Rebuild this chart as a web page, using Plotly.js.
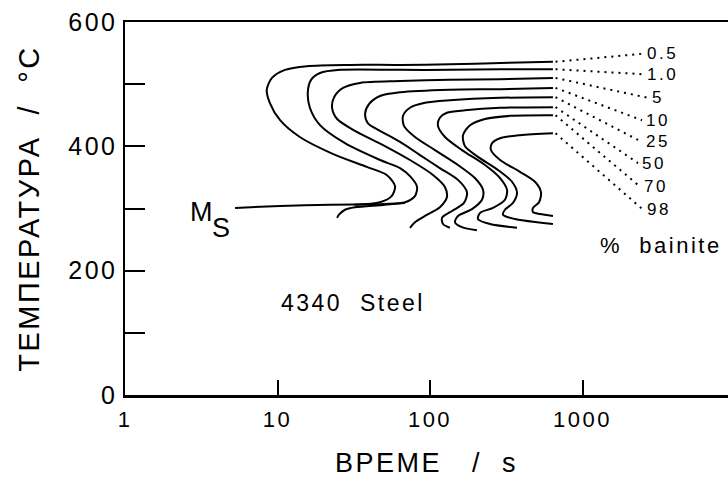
<!DOCTYPE html>
<html>
<head>
<meta charset="utf-8">
<script src="https://cdn.plot.ly/plotly-3.0.1.min.js"></script>
<style>
  html, body { margin: 0; padding: 0; background: #fff; overflow: hidden; }
  svg text { letter-spacing: 2.5px; }
</style>
</head>
<body>
<div id="chart" style="width:728px;height:481px;"></div>
<script>
// ---- Data (time in s, temperature in °C) ----
const time05 = [640, 290, 135, 64, 30, 15.6, 11.2, 9.2, 8.5, 8.9, 10.4, 14, 23, 38.5, 52, 59, 56, 47, 32];
const temp05 = [536, 534, 532, 531, 531, 529, 523, 510, 491, 470, 442, 415, 388, 367, 354, 336, 320, 310, 306];

const time10 = [640, 288, 135, 64, 25.7, 19.0, 16.6, 15.8, 16.3, 19.0, 27.7, 47, 63.6, 73.9, 82.2, 79.7, 68.6, 50.7, 32.2, 27.7, 25.3, 24.6];
const temp10 = [524, 524, 523, 523, 523, 518, 507, 487, 462, 434, 405, 378, 365, 352, 335, 320, 310, 306, 302, 298, 290, 285];

const time5 = [640, 288, 135, 64, 34.8, 26.9, 23.5, 22.8, 24.6, 32.2, 49.2, 73.9, 104.6, 125, 129, 116, 92.7, 79.7, 73.9];
const temp5 = [510, 508, 507, 505, 502, 494, 479, 462, 444, 425, 402, 378, 354, 335, 318, 302, 288, 278, 269];

const time10p = [640, 288, 135, 64, 47, 39.8, 37.5, 39.2, 47, 63.6, 86, 116, 152.6, 174.8, 167, 139.4, 119.9, 121.7, 135];
const temp10p = [494, 492, 491, 487, 481, 468, 452, 437, 425, 407, 386, 365, 346, 326, 309, 296, 285, 275, 269];

const time25 = [640, 288, 135, 92.7, 73.9, 66.5, 67.5, 79.7, 107.8, 152.6, 197, 222.6, 219.3, 188.5, 152.6, 145.8, 162, 203];
const temp25 = [479, 478, 474, 470, 462, 449, 433, 415, 394, 370, 349, 330, 314, 299, 288, 278, 270, 265];

const time50 = [640, 288, 169.6, 129, 116, 112.8, 125.4, 162, 229.5, 288, 320, 310, 258.9, 213, 206.4, 247.5, 372];
const temp50 = [463, 462, 458, 454, 446, 433, 415, 394, 370, 349, 330, 314, 301, 293, 283, 275, 269];

const time70 = [640, 335, 229.5, 183, 164.6, 169.6, 206.4, 279.2, 344.9, 372, 350, 310, 301, 361, 640];
const temp70 = [450, 449, 444, 434, 418, 400, 383, 362, 343, 325, 309, 298, 290, 283, 275];

const time98 = [640, 389, 288, 255, 251, 288, 389, 488, 534.5, 518.6, 473.6, 473.6, 526, 640];
const temp98 = [421, 418, 413, 405, 394, 378, 359, 343, 326, 310, 301, 294, 291, 288];

// Ms line
const timeMs = [5.27, 10.4, 22.1, 47.0, 68.6];
const tempMs = [301, 304, 306, 307, 309];

// curve labels (% bainite) and leader lines
const curveLabels = ['0.5', '1.0', '5', '10', '25', '50', '70', '98'];
const leaderStartTime = [640, 640, 640, 640, 640, 640, 640, 640];
const leaderStartTemp = [536, 524, 510, 494, 479, 463, 450, 421];
const labelTime = [2494, 2494, 2690, 2455, 2455, 2312, 2382, 2494];
const labelTemp = [549, 516, 478, 442, 407, 373, 335, 298];

// ---- Chart ----
const FONT = '"Liberation Sans", Arial, Helvetica, sans-serif';
const curves = [
  [time05, temp05], [time10, temp10], [time5, temp5], [time10p, temp10p],
  [time25, temp25], [time50, temp50], [time70, temp70], [time98, temp98]
];
const traces = curves.map((c, i) => ({
  x: c[0], y: c[1], type: 'scatter', mode: 'lines',
  line: {color: 'black', width: 2, shape: 'spline', smoothing: 0.8},
  name: curveLabels[i] + ' %', hoverinfo: 'skip'
}));
traces.push({
  x: timeMs, y: tempMs, type: 'scatter', mode: 'lines',
  line: {color: 'black', width: 2, shape: 'spline', smoothing: 0.6}, hoverinfo: 'skip'
});
curveLabels.forEach((lab, i) => {
  traces.push({
    x: [leaderStartTime[i] * 1.04, labelTime[i]],
    y: [leaderStartTemp[i], labelTemp[i]],
    type: 'scatter', mode: 'lines',
    line: {color: 'black', width: 2, dash: '2px,5px'}, hoverinfo: 'skip'
  });
});

const annotations = curveLabels.map((lab, i) => ({
  x: Math.log10(labelTime[i]) + 0.01, y: labelTemp[i], xref: 'x', yref: 'y',
  text: lab, showarrow: false, xanchor: 'left', yanchor: 'middle',
  font: {size: 17, family: FONT, color: 'black'}
}));
annotations.push(
  {x: Math.log10(1264), y: 241, xref: 'x', yref: 'y', text: '%\u00a0 bainite', showarrow: false,
   xanchor: 'left', yanchor: 'middle', font: {size: 22, family: FONT, color: 'black'}},
  {x: Math.log10(10.2), y: 148, xref: 'x', yref: 'y', text: '4340\u00a0 Steel', showarrow: false,
   xanchor: 'left', yanchor: 'middle', font: {size: 23, family: FONT, color: 'black'}},
  {x: 0.410, y: 294, xref: 'x', yref: 'y', text: 'M', showarrow: false,
   xanchor: 'left', yanchor: 'middle', font: {size: 27, family: FONT, color: 'black'}},
  {x: 0.560, y: 268, xref: 'x', yref: 'y', text: 'S', showarrow: false,
   xanchor: 'left', yanchor: 'middle', font: {size: 27, family: FONT, color: 'black'}}
);

const layout = {
  width: 728, height: 481,
  margin: {l: 125, r: 0, t: 22, b: 86},
  paper_bgcolor: 'white', plot_bgcolor: 'white',
  showlegend: false,
  font: {family: FONT, color: 'black'},
  xaxis: {
    type: 'log', range: [0, 3.954],
    tickvals: [1, 10, 100, 1000], ticktext: ['1', '10', '100', '1000'],
    ticks: 'inside', ticklen: 15, tickwidth: 2, tickcolor: 'black',
    showline: true, linewidth: 2.5, linecolor: 'black', mirror: true,
    showgrid: false, zeroline: false,
    tickfont: {size: 22, family: FONT, color: 'black'},
    ticklabelstandoff: 3,
    title: {text: 'ВРЕМЕ\u00a0\u00a0\u00a0/\u00a0\u00a0s', font: {size: 27, family: FONT, color: 'black'}, standoff: 22}
  },
  yaxis: {
    range: [0, 600],
    tickvals: [0, 200, 400, 600],
    ticks: 'inside', ticklen: 20, tickwidth: 2, tickcolor: 'black',
    showline: true, linewidth: 2.5, linecolor: 'black', mirror: false,
    showgrid: false, zeroline: false,
    tickfont: {size: 25, family: FONT, color: 'black'},
    minor: {tickvals: [100, 300, 500], ticks: 'inside', ticklen: 20, tickwidth: 2, tickcolor: 'black', showgrid: false},
    title: {text: 'ТЕМПЕРАТУРА\u00a0\u00a0/\u00a0\u00a0°C', font: {size: 29, family: FONT, color: 'black'}, standoff: 20}
  },
  annotations: annotations
};

Plotly.newPlot('chart', traces, layout, {staticPlot: true, displayModeBar: false});
</script>
</body>
</html>
